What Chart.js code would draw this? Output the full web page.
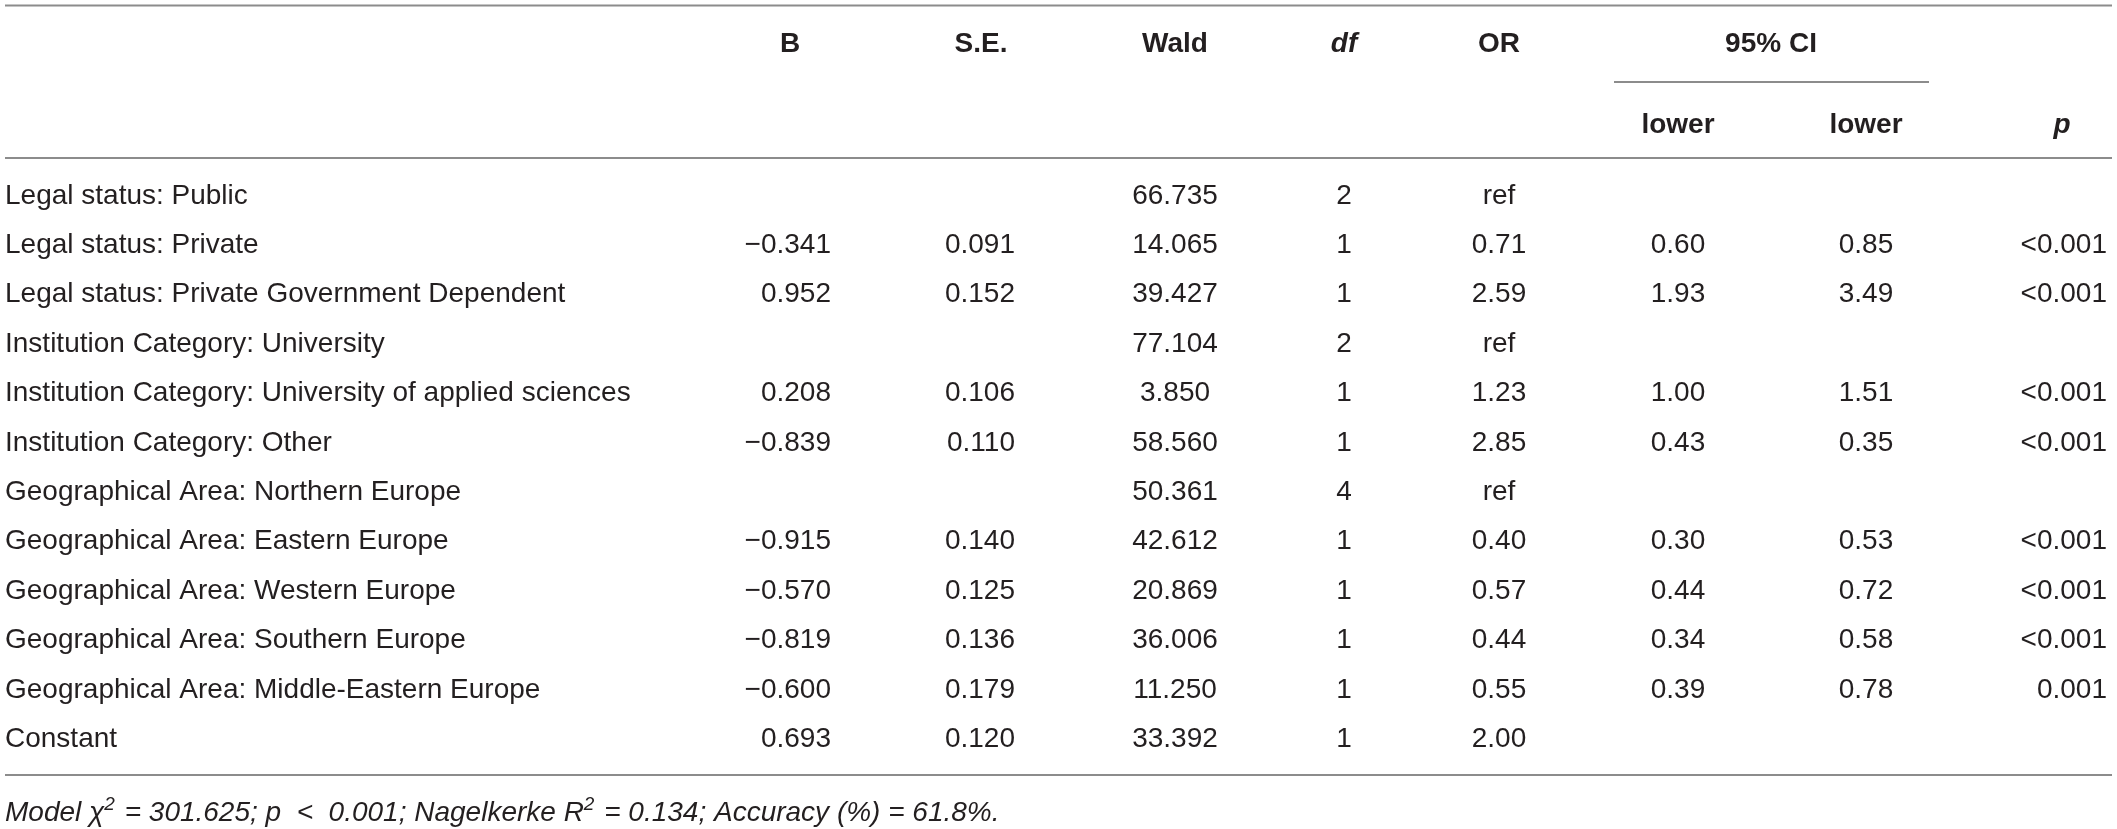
<!DOCTYPE html>
<html>
<head>
<meta charset="utf-8">
<script src="https://cdn.jsdelivr.net/npm/chart.js@4.4.1/dist/chart.umd.min.js"></script>
<style>
  html, body { margin: 0; padding: 0; background: #fff; }
  #stage { display: block; }
</style>
</head>
<body>
<canvas id="stage" width="2117" height="829"></canvas>
<script>
// ---- table data ----
const rowLabels = [
    'Legal status: Public',
    'Legal status: Private',
    'Legal status: Private Government Dependent',
    'Institution Category: University',
    'Institution Category: University of applied sciences',
    'Institution Category: Other',
    'Geographical Area: Northern Europe',
    'Geographical Area: Eastern Europe',
    'Geographical Area: Western Europe',
    'Geographical Area: Southern Europe',
    'Geographical Area: Middle-Eastern Europe',
    'Constant'
];
const valB    = [null, -0.341, 0.952, null, 0.208, -0.839, null, -0.915, -0.570, -0.819, -0.600, 0.693];
const valSE   = [null, 0.091, 0.152, null, 0.106, 0.110, null, 0.140, 0.125, 0.136, 0.179, 0.120];
const valWald = [66.735, 14.065, 39.427, 77.104, 3.850, 58.560, 50.361, 42.612, 20.869, 36.006, 11.250, 33.392];
const valDf   = [2, 1, 1, 2, 1, 1, 4, 1, 1, 1, 1, 1];
const valOR   = ['ref', 0.71, 2.59, 'ref', 1.23, 2.85, 'ref', 0.40, 0.57, 0.44, 0.55, 2.00];
const ciLow   = [null, 0.60, 1.93, null, 1.00, 0.43, null, 0.30, 0.44, 0.34, 0.39, null];
const ciHigh  = [null, 0.85, 3.49, null, 1.51, 0.35, null, 0.53, 0.72, 0.58, 0.78, null];
const pValues = [null, '<0.001', '<0.001', null, '<0.001', '<0.001', null, '<0.001', '<0.001', '<0.001', '0.001', null];

const headTop = ['B', 'S.E.', 'Wald', 'df', 'OR', '95% CI'];
const headSub = ['lower', 'lower', 'p'];
// footnote pieces: [text, superscript?]
const footParts = [
    ['Model \u03C7', false], ['2', true],
    [' = 301.625; p  <  0.001; Nagelkerke R', false], ['2', true],
    [' = 0.134; Accuracy (%) = 61.8%.', false]
];

// ---- layout (scale units = canvas pixels) ----
const W = 2117, H = 829;
const ROW0 = 203.5, ROW_STEP = 49.4;   // baseline of first body row, row pitch
const TEXT = '#231f20', RULE = '#8c8c8c';
const FONT = '"Liberation Sans", Arial, Helvetica, sans-serif';

function fmt(v, d) {
    if (v === null || v === undefined) return null;
    if (typeof v === 'string') return v;
    return v.toFixed(d).replace('-', '\u2212');
}

// columns of the body: anchor x, alignment, values, decimals
const columns = [
    { x: 5,    align: 'left',   values: rowLabels, dec: 0 },
    { x: 831,  align: 'right',  values: valB,      dec: 3 },
    { x: 1015, align: 'right',  values: valSE,     dec: 3 },
    { x: 1175, align: 'center', values: valWald,   dec: 3 },
    { x: 1344, align: 'center', values: valDf,     dec: 0 },
    { x: 1499, align: 'center', values: valOR,     dec: 2 },
    { x: 1678, align: 'center', values: ciLow,     dec: 2 },
    { x: 1866, align: 'center', values: ciHigh,    dec: 2 },
    { x: 2107, align: 'right',  values: pValues,   dec: 3 }
];

// one invisible scatter dataset per column, one point per filled cell
const datasets = columns.map(function(col) {
    const pts = [];
    col.values.forEach(function(v, r) {
        const s = fmt(v, col.dec);
        if (s !== null) pts.push({ x: col.x, y: ROW0 + r * ROW_STEP, text: s });
    });
    return { data: pts, align: col.align, pointRadius: 0, pointHoverRadius: 0 };
});

const tablePlugin = {
    id: 'tableText',
    afterDatasetsDraw(chart) {
        const ctx = chart.ctx;
        const sx = chart.scales.x, sy = chart.scales.y;
        const px = v => sx.getPixelForValue(v);
        const py = v => sy.getPixelForValue(v);
        ctx.save();

        // rules
        ctx.strokeStyle = RULE;
        ctx.lineWidth = 2;
        function rule(x1, x2, y) {
            ctx.beginPath();
            ctx.moveTo(px(x1), py(y));
            ctx.lineTo(px(x2), py(y));
            ctx.stroke();
        }
        rule(5, 2112, 5.5);
        rule(1614, 1929, 82);
        rule(5, 2112, 158);
        rule(5, 2112, 775);

        // header
        ctx.fillStyle = TEXT;
        ctx.textBaseline = 'alphabetic';
        ctx.textAlign = 'center';
        const topX = [790, 981, 1175, 1344, 1499, 1771];
        headTop.forEach(function(t, i) {
            ctx.font = (t === 'df' ? 'italic ' : '') + 'bold 28px ' + FONT;
            ctx.fillText(t, px(topX[i]), py(52));
        });
        const subX = [1678, 1866, 2062];
        headSub.forEach(function(t, i) {
            ctx.font = (t === 'p' ? 'italic ' : '') + 'bold 28px ' + FONT;
            ctx.fillText(t, px(subX[i]), py(133));
        });

        // body cells, placed by the scatter elements
        ctx.font = '28px ' + FONT;
        chart.data.datasets.forEach(function(ds, di) {
            const meta = chart.getDatasetMeta(di);
            ctx.textAlign = ds.align;
            meta.data.forEach(function(el, i) {
                ctx.fillText(ds.data[i].text, el.x, el.y);
            });
        });

        // footnote
        ctx.textAlign = 'left';
        let x = px(5);
        const base = py(821);
        footParts.forEach(function(p) {
            ctx.font = p[1] ? 'italic 19px ' + FONT : 'italic 28px ' + FONT;
            const y = p[1] ? base - 11 : base;
            ctx.fillText(p[0], x, y);
            x += ctx.measureText(p[0]).width + (p[1] ? 2 : 0);
        });
        ctx.restore();
    }
};

const chart = new Chart(document.getElementById('stage'), {
    type: 'scatter',
    data: { datasets: datasets },
    options: {
        responsive: false,
        animation: false,
        devicePixelRatio: 1,
        events: [],
        layout: { padding: 0 },
        plugins: { legend: { display: false }, tooltip: { enabled: false } },
        scales: {
            x: { type: 'linear', min: 0, max: W, display: false },
            y: { type: 'linear', min: 0, max: H, reverse: true, display: false }
        }
    },
    plugins: [tablePlugin]
});
</script>
</body>
</html>
